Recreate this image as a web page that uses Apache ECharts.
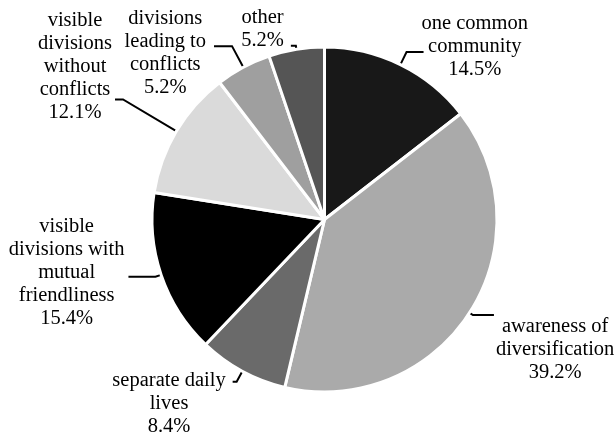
<!DOCTYPE html>
<html>
<head>
<meta charset="utf-8">
<script src="https://cdn.jsdelivr.net/npm/echarts@6/dist/echarts.min.js"></script>
<style>
  html, body { margin: 0; padding: 0; background: #ffffff; }
  #chart { width: 614px; height: 433px; }
</style>
</head>
<body>
<div id="chart"></div>
<script>
// ---- data ----
var categories = [
  'one common\ncommunity',
  'awareness of\ndiversification',
  'separate daily\nlives',
  'visible\ndivisions with\nmutual\nfriendliness',
  'visible\ndivisions\nwithout\nconflicts',
  'divisions\nleading to\nconflicts',
  'other'
];
var shares = [14.5, 39.2, 8.4, 15.4, 12.1, 5.2, 5.2];

// ---- styling (not data) ----
var sliceColors = ['#181818', '#aaaaaa', '#6a6a6a', '#000000', '#dadada', '#9f9f9f', '#555555'];
// per-label leader lengths, distance and padding
var labelTweaks = [
  { len: 14,  len2: 17, dist: -2, pad: [0, 0, 11, 0] },
  { len: 4,   len2: 21, dist: 2,  pad: [69, 0, 0, 0] },
  { len: 12,  len2: 4,  dist: 7,  pad: [43, 0, 0, 0] },
  { len: 6,   len2: 27, dist: 4,  pad: [0, 0, 9, 0] },
  { len: 62,  len2: 8,  dist: 3,  pad: [0, 0, 66, 0] },
  { len: 24,  len2: 18, dist: 8,  pad: [14, 0, 0, 0] },
  { len: 3.5, len2: 5,  dist: 7,  pad: [0, 0, 33, 0] }
];

var seriesData = categories.map(function (name, i) {
  var t = labelTweaks[i];
  return {
    name: name,
    value: shares[i],
    itemStyle: { color: sliceColors[i] },
    label: { distanceToLabelLine: t.dist, padding: t.pad },
    labelLine: { length: t.len, length2: t.len2 }
  };
});

var chart = echarts.init(document.getElementById('chart'), null, { renderer: 'canvas' });
chart.setOption({
  backgroundColor: '#ffffff',
  animation: false,
  series: [{
    type: 'pie',
    center: [324.5, 219.5],
    radius: [0, 172.5],
    startAngle: 90,
    clockwise: true,
    avoidLabelOverlap: false,
    silent: true,
    itemStyle: { borderColor: '#ffffff', borderWidth: 3 },
    label: {
      show: true,
      position: 'outside',
      alignTo: 'none',
      formatter: function (p) {
        var lines = p.name.split('\n');
        lines.push(p.value.toFixed(1) + '%');
        return lines.map(function (l) { return '{c|' + l + '}'; }).join('\n');
      },
      rich: {
        c: {
          align: 'center',
          fontFamily: 'Liberation Serif',
          fontSize: 20.5,
          lineHeight: 23,
          color: '#000000'
        }
      }
    },
    labelLine: {
      show: true,
      smooth: false,
      lineStyle: { color: '#000000', width: 2 }
    },
    data: seriesData
  }]
});
</script>
</body>
</html>
